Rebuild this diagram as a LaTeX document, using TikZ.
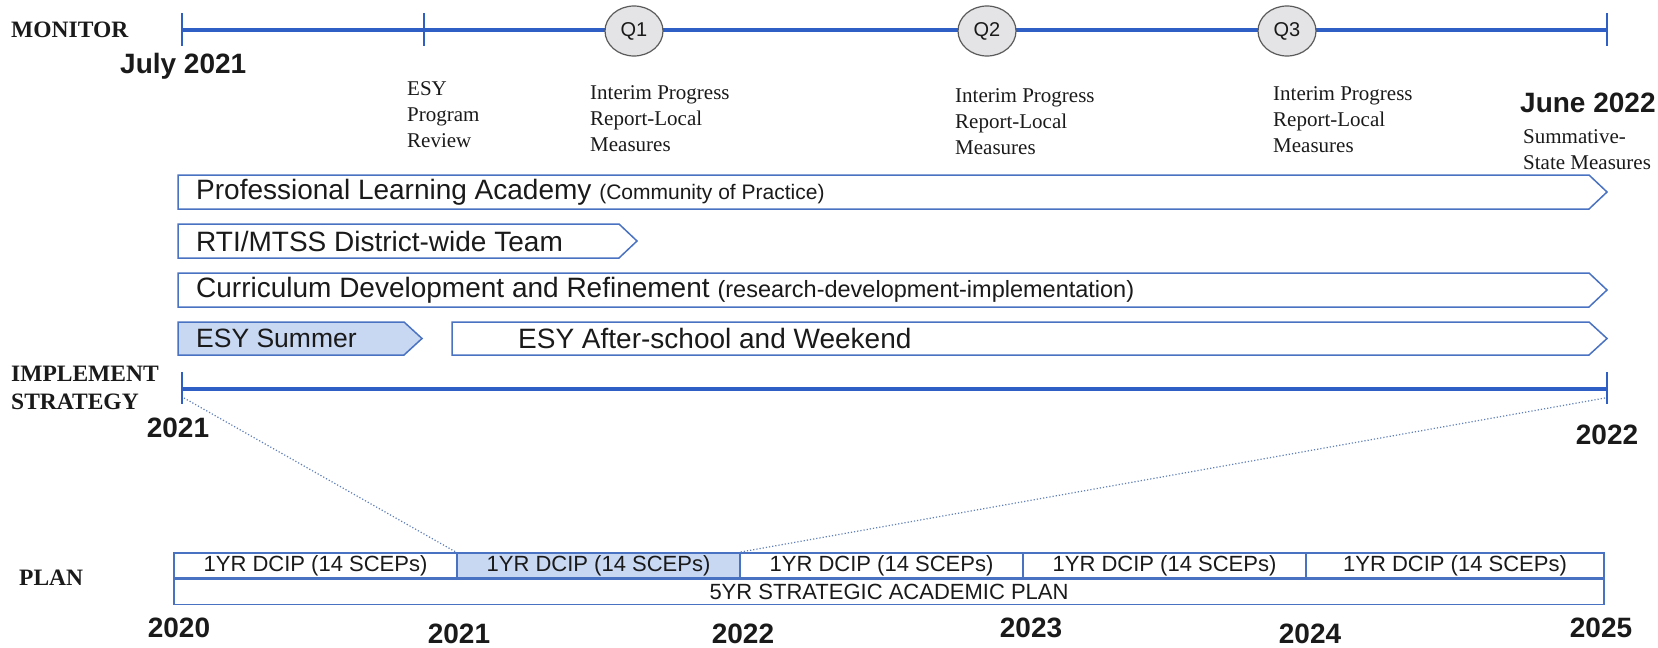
\documentclass[tikz,border=0pt]{standalone}
\usepackage{fontspec}
\setmainfont{Liberation Serif}
\newfontfamily\arialf{Liberation Sans}
\usetikzlibrary{shapes.geometric}
\definecolor{tline}{HTML}{2F5FC4}
\definecolor{abord}{HTML}{4A72C2}
\definecolor{lblue}{HTML}{C8D7F2}
\definecolor{qfill}{HTML}{E4E4E6}
\definecolor{qbord}{HTML}{5A5A5A}
\definecolor{dotc}{HTML}{5F7FB8}
\definecolor{txt}{HTML}{1A1A1A}
\begin{document}
\begin{tikzpicture}[x=1pt,y=-1pt,
  timeline/.style={line width=4pt, draw=tline},
  tickline/.style={line width=1.6pt, draw=tline},
  lbl/.style={font=\bfseries\fontsize{23.5}{28}\selectfont, anchor=west, inner sep=0pt, text=txt},
  note/.style={font=\fontsize{21}{26}\selectfont, anchor=north west, align=left, inner sep=0pt, text=txt},
  year/.style={font=\arialf\bfseries\fontsize{28}{32}\selectfont, inner sep=0pt, text=txt},
  qnode/.style={ellipse, draw=qbord, fill=qfill, line width=1.2pt, minimum width=58pt, minimum height=50pt, inner sep=0pt, font=\arialf\fontsize{20}{24}\selectfont, text=txt},
  bar/.style={draw=abord, line width=1.5pt, line join=miter},
  bartext/.style={font=\arialf\fontsize{28}{32}\selectfont, anchor=west, inner sep=0pt, text=txt},
  cell/.style={draw=abord, line width=1.5pt, minimum height=25pt, inner sep=0pt, font=\arialf\fontsize{22}{26}\selectfont, text=txt},
  dotline/.style={dotted, line width=1.2pt, draw=dotc}
]
\useasboundingbox (0,0) rectangle (1658,648);

% ---------- MONITOR ----------
\node[lbl] (mon) at (11,30) {MONITOR};
\coordinate (ta) at (182,30);
\coordinate (tb) at (1607,30);
\draw[timeline] (ta) -- (tb);
\draw[tickline] (182,13) -- (182,46);
\draw[tickline] (424,13) -- (424,46);
\draw[tickline] (1607,13) -- (1607,46);
\node[qnode] (q1) at (634,31) {Q1};
\node[qnode] (q2) at (987,31) {Q2};
\node[qnode] (q3) at (1287,31) {Q3};

\node[year, anchor=west] (jul) at (120,66) {July 2021};
\node[year, anchor=west] (jun) at (1520,103) {June 2022};
\node[note] (esy) at (407,81) {ESY\\Program\\Review};
\node[note] (i1) at (590,85) {Interim Progress\\Report-Local\\Measures};
\node[note] (i2) at (955,88) {Interim Progress\\Report-Local\\Measures};
\node[note] (i3) at (1273,86) {Interim Progress\\Report-Local\\Measures};
\node[note] (sum) at (1523,129) {Summative-\\State Measures};

% ---------- IMPLEMENT ----------
\draw[bar, fill=white] (178,175) -- (1589,175) -- (1607,192) -- (1589,209) -- (178,209) -- cycle;
\node[bartext] (pla) at (196,192) {Professional Learning Academy {\fontsize{21}{24}\selectfont (Community of Practice)}};
\draw[bar, fill=white] (178,224) -- (619,224) -- (637,241) -- (619,258) -- (178,258) -- cycle;
\node[bartext] (rti) at (196,241) {RTI/MTSS District-wide Team};
\draw[bar, fill=white] (178,273) -- (1589,273) -- (1607,290) -- (1589,307) -- (178,307) -- cycle;
\node[bartext] (cur) at (196,290) {Curriculum Development and Refinement {\fontsize{23.5}{27}\selectfont (research-development-implementation)}};
\draw[bar, fill=lblue] (178,322) -- (404,322) -- (422,338.5) -- (404,355) -- (178,355) -- cycle;
\node[bartext, font=\arialf\fontsize{26.5}{30}\selectfont] (esys) at (196,338.5) {ESY Summer};
\draw[bar, fill=white] (452,322) -- (1589,322) -- (1607,338.5) -- (1589,355) -- (452,355) -- cycle;
\node[bartext] (esya) at (518,338.5) {ESY After-school and Weekend};

\node[lbl] (imp) at (11,374) {IMPLEMENT};
\node[lbl] (strat) at (11,402) {STRATEGY};
\coordinate (ma) at (182,389);
\coordinate (mb) at (1607,389);
\draw[timeline] (ma) -- (mb);
\draw[tickline] (182,372) -- (182,404);
\draw[tickline] (1607,372) -- (1607,404);
\coordinate (da) at (184,398);
\coordinate (db) at (1605,398);
\node[year] (y21m) at (178,428) {2021};
\node[year] (y22m) at (1607,435) {2022};

% ---------- PLAN ----------
\node[lbl] (plan) at (19,578) {PLAN};
\node[cell, minimum width=283pt] (c1) at (315.5,565.5) {1YR DCIP (14 SCEPs)};
\node[cell, minimum width=283pt, fill=lblue] (c2) at (598.5,565.5) {1YR DCIP (14 SCEPs)};
\node[cell, minimum width=283pt] (c3) at (881.5,565.5) {1YR DCIP (14 SCEPs)};
\node[cell, minimum width=283pt] (c4) at (1164.5,565.5) {1YR DCIP (14 SCEPs)};
\node[cell, minimum width=298pt] (c5) at (1455,565.5) {1YR DCIP (14 SCEPs)};
\node[cell, minimum width=1430pt, anchor=north west] (five) at (c1.south west) {5YR STRATEGIC ACADEMIC PLAN};

\draw[dotline] (da) -- (c2.north west);
\draw[dotline] (db) -- (c3.north west);

\node[year] (y20) at (179,628) {2020};
\node[year] (y21) at (459,634) {2021};
\node[year] (y22) at (743,634) {2022};
\node[year] (y23) at (1031,628) {2023};
\node[year] (y24) at (1310,634) {2024};
\node[year] (y25) at (1601,628) {2025};
\end{tikzpicture}
\end{document}
